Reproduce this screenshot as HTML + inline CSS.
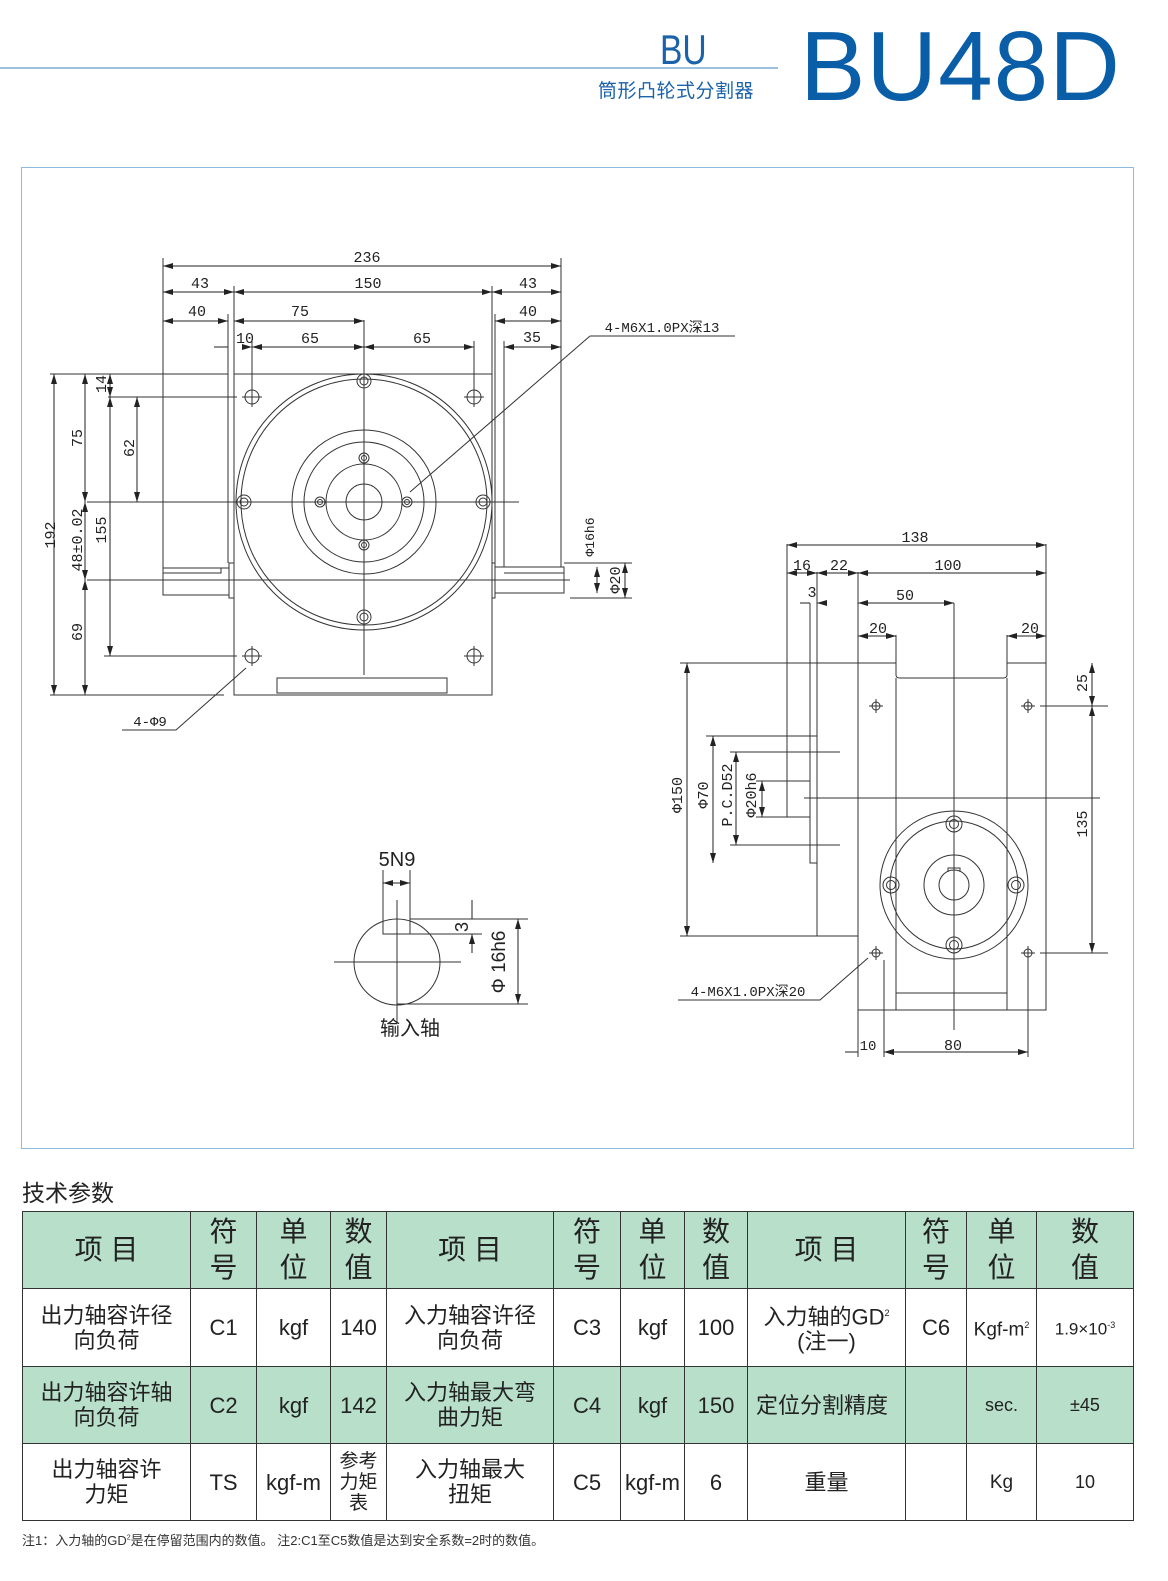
<!DOCTYPE html>
<html><head><meta charset="utf-8"><style>
body{margin:0;background:#fff;width:1168px;height:1581px;position:relative;overflow:hidden;font-family:"Liberation Sans","Noto Sans CJK SC",sans-serif}
.a{position:absolute}
table{position:absolute;left:22px;top:1211px;border-collapse:collapse;table-layout:fixed;width:1111px}
td{border:1.5px solid #333;text-align:center;vertical-align:middle;font-size:22px;line-height:25px;color:#222;padding:0}
tr.g td{background:#b7dfca}
tr.h td{font-size:28px;line-height:36px}
</style></head><body>
<div class="a" style="left:0;top:67px;width:778px;height:2px;background:#9cc0e0"></div>
<div class="a" style="left:660px;top:26px;font-size:42px;color:#1a62aa;font-family:'Liberation Sans',sans-serif;transform:scaleX(0.8);transform-origin:left">BU</div>
<div class="a" style="left:598px;top:76px;font-size:19px;color:#1a62aa;letter-spacing:0.5px">筒形凸轮式分割器</div>
<div class="a" style="left:800px;top:16px;font-size:98px;color:#0a5ea8;line-height:100px;letter-spacing:1px">BU48D</div>
<div class="a" style="left:21px;top:167px;width:1111px;height:980px;border:1.5px solid #8dbbe0"></div>

<svg class="a" style="left:0;top:0" width="1168" height="1160" viewBox="0 0 1168 1160">
<defs><marker id="m" viewBox="0 0 10 6" refX="10" refY="3" markerWidth="10" markerHeight="6" orient="auto-start-reverse"><path d="M0,0L10,3L0,6z" fill="#222"/></marker></defs>
<g stroke="#333" stroke-width="1" fill="none">
<rect x="234" y="374" width="258" height="321"/>
<rect x="277" y="678" width="170" height="15"/>
<circle cx="364" cy="502" r="128"/><circle cx="364" cy="502" r="123"/>
<circle cx="364" cy="502" r="72"/><circle cx="364" cy="502" r="60"/><circle cx="364" cy="502" r="38"/><circle cx="364" cy="502" r="18"/>
<g>
<circle cx="364" cy="381" r="7"/><circle cx="364" cy="381" r="4"/>
<circle cx="364" cy="617" r="7"/><circle cx="364" cy="617" r="4"/>
<circle cx="244" cy="502" r="7"/><circle cx="244" cy="502" r="4"/>
<circle cx="483" cy="502" r="7"/><circle cx="483" cy="502" r="4"/>
<circle cx="320" cy="502" r="5"/><circle cx="320" cy="502" r="2.5"/>
<circle cx="407" cy="502" r="5"/><circle cx="407" cy="502" r="2.5"/>
<circle cx="364" cy="458" r="5"/><circle cx="364" cy="458" r="2.5"/>
<circle cx="364" cy="545" r="5"/><circle cx="364" cy="545" r="2.5"/>
<circle cx="252" cy="397" r="7"/><path d="M242 397h20M252 387v20"/>
<circle cx="474" cy="397" r="7"/><path d="M464 397h20M474 387v20"/>
<circle cx="252" cy="656" r="7"/><path d="M242 656h20M252 646v20"/>
<circle cx="474" cy="656" r="7"/><path d="M464 656h20M474 646v20"/>
</g>
<rect x="163" y="568" width="66" height="27"/><path d="M163 573h58v-5"/><rect x="229" y="563" width="5" height="35"/>
<rect x="495" y="567" width="69" height="26"/><path d="M504 573h60"/><rect x="492" y="563" width="3" height="35"/>
<path d="M87 502H519M87 580H570M364 320V675"/>
<path d="M163 258V568M561 258V567M234 286V374M228 314V563M492 286V374M495 314V563M504 341V567M252 341V390M474 341V390"/>
<path d="M50 374H228M108 397H237M104 656H237M50 695H224M564 563H632M570 598H632"/>
</g>
<g stroke="#222" stroke-width="1" fill="none" marker-start="url(#m)" marker-end="url(#m)">
<path d="M163 266H561"/><path d="M163 292H234"/><path d="M234 292H492"/><path d="M492 292H561"/>
<path d="M163 321H228"/><path d="M234 321H364"/><path d="M495 321H561"/>
<path d="M252 347H364"/><path d="M364 347H474"/><path d="M504 347H561"/>
<path d="M54 374V695"/><path d="M85 374V502"/><path d="M110 374V397"/><path d="M137 397V502"/>
<path d="M85 502V580"/><path d="M110 397V656"/><path d="M85 580V695"/>
<path d="M597 567V593"/><path d="M625 563V598"/>
</g>
<path d="M214 347H228M252 347" stroke="#222" marker-end="url(#m)"/>
<g font-family="Liberation Mono,monospace" font-size="15" fill="#222" text-anchor="middle">
<text x="367" y="262">236</text><text x="200" y="288">43</text><text x="368" y="288">150</text><text x="528" y="288">43</text>
<text x="197" y="316">40</text><text x="300" y="316">75</text><text x="528" y="316">40</text>
<text x="245" y="343">10</text><text x="310" y="343">65</text><text x="422" y="343">65</text><text x="532" y="342">35</text>
<text transform="translate(55,535) rotate(-90)">192</text>
<text transform="translate(82,438) rotate(-90)">75</text>
<text transform="translate(106,384) rotate(-90)">14</text>
<text transform="translate(134,448) rotate(-90)">62</text>
<text transform="translate(82,540) rotate(-90)">48±0.02</text>
<text transform="translate(106,530) rotate(-90)">155</text>
<text transform="translate(82,632) rotate(-90)">69</text>
<text transform="translate(594,537) rotate(-90)" font-size="13">Φ16h6</text>
<text transform="translate(620,580) rotate(-90)">Φ20</text>
<text x="662" y="332" font-size="14">4-M6X1.0PX深13</text>
<text x="150" y="726" font-size="14">4-Φ9</text>
</g>
<path d="M590 336H735M590 336L410 492" stroke="#333" fill="none"/>
<path d="M122 730H176L246 668" stroke="#333" fill="none"/>

<g stroke="#333" fill="none">
<circle cx="397" cy="962" r="43"/>
<path d="M383 919V934H410V919M334 962H461M397 900V1022M383 870V919M410 870V919M410 919H528M410 934H482M397 1004H528"/>
</g>
<g stroke="#222" fill="none" marker-start="url(#m)" marker-end="url(#m)"><path d="M383 883H410"/><path d="M518 919V1004"/></g>
<path d="M472 900V919M472 953V934" stroke="#222" marker-end="url(#m)"/>
<text x="397" y="866" font-size="20" text-anchor="middle" fill="#222">5N9</text>
<text transform="translate(468,927) rotate(-90)" font-size="18" text-anchor="middle" fill="#222">3</text>
<text transform="translate(505,962) rotate(-90)" font-size="19" text-anchor="middle" fill="#222">Φ 16h6</text>
<text x="410" y="1035" font-size="20" text-anchor="middle" fill="#222">输入轴</text>

<g stroke="#333" fill="none">
<path d="M817 663H858V936H817z"/>
<path d="M858 663H896V675Q896 678 900 678H1003Q1007 678 1007 675V663H1046V1010H858z"/>
<path d="M896 678V1010M1007 678V1010M896 993H1007"/>
<path d="M810 736H817V863H810z"/>
<path d="M787 781H810V817H787z"/>
<circle cx="954" cy="885" r="74"/><circle cx="954" cy="885" r="64"/><circle cx="954" cy="885" r="30"/><circle cx="954" cy="885" r="15"/>
<path d="M948 872V868H960V872"/>
<circle cx="954" cy="824" r="8"/><circle cx="954" cy="824" r="4.5"/>
<circle cx="954" cy="945" r="8"/><circle cx="954" cy="945" r="4.5"/>
<circle cx="891" cy="885" r="8"/><circle cx="891" cy="885" r="4.5"/>
<circle cx="1016" cy="885" r="8"/><circle cx="1016" cy="885" r="4.5"/>
<circle cx="876" cy="706" r="4"/><path d="M869 706h14M876 699v14"/>
<circle cx="1028" cy="706" r="4"/><path d="M1021 706h14M1028 699v14"/>
<circle cx="876" cy="953" r="4"/><path d="M869 953h14M876 946v14"/>
<circle cx="1028" cy="953" r="4"/><path d="M1021 953h14M1028 946v14"/>
<path d="M804 798H1100M954 603V1030"/>
<path d="M787 544V781M817 572V736M810 603V736M858 572V663M896 635V663M1007 635V663M1046 544V663"/>
<path d="M680 663H817M680 936H858M706 736H817M730 752H840M730 845H840M756 781H787M756 817H787"/>
<path d="M1040 706H1108M1040 953H1108"/>
<path d="M858 1010V1057M884 960V1057M1028 960V1057"/>
</g>
<g stroke="#222" fill="none" marker-start="url(#m)" marker-end="url(#m)">
<path d="M787 545H1046"/><path d="M787 573H817"/><path d="M817 573H858"/><path d="M858 573H1046"/>
<path d="M858 603H954"/><path d="M858 636H896"/><path d="M1007 636H1046"/>
<path d="M687 663V936"/><path d="M713 736V863"/><path d="M736 752V845"/><path d="M762 781V817"/>
<path d="M1092 663V706"/><path d="M1092 706V953"/>
<path d="M884 1052H1028"/>
</g>
<path d="M800 603H810M827 603H817" stroke="#222" marker-end="url(#m)"/>
<path d="M845 1052H858M897 1052H884" stroke="#222" marker-end="url(#m)"/>
<g font-family="Liberation Mono,monospace" font-size="15" fill="#222" text-anchor="middle">
<text x="915" y="542">138</text><text x="802" y="570">16</text><text x="839" y="570">22</text><text x="948" y="570">100</text>
<text x="812" y="597">3</text><text x="905" y="600">50</text><text x="878" y="633">20</text><text x="1030" y="633">20</text>
<text transform="translate(682,795) rotate(-90)">Φ150</text>
<text transform="translate(708,795) rotate(-90)">Φ70</text>
<text transform="translate(732,795) rotate(-90)">P.C.D52</text>
<text transform="translate(756,795) rotate(-90)">Φ20h6</text>
<text transform="translate(1087,683) rotate(-90)">25</text>
<text transform="translate(1087,824) rotate(-90)">135</text>
<text x="868" y="1050" font-size="14">10</text><text x="953" y="1050">80</text>
<text x="748" y="996" font-size="14">4-M6X1.0PX深20</text>
</g>
<path d="M678 1000H820L868 958" stroke="#333" fill="none"/>
</svg>

<div class="a" style="left:22px;top:1174px;font-size:23px;color:#222">技术参数</div>
<table>
<colgroup><col style="width:168px"><col style="width:66px"><col style="width:74px"><col style="width:56px"><col style="width:167px"><col style="width:67px"><col style="width:64px"><col style="width:63px"><col style="width:158px"><col style="width:61px"><col style="width:70px"><col style="width:97px"></colgroup>
<tr class="g h" style="height:77px"><td>项 目</td><td>符<br>号</td><td>单<br>位</td><td>数<br>值</td><td>项 目</td><td>符<br>号</td><td>单<br>位</td><td>数<br>值</td><td>项 目</td><td>符<br>号</td><td>单<br>位</td><td>数<br>值</td></tr>
<tr style="height:78px"><td>出力轴容许径<br>向负荷</td><td>C1</td><td>kgf</td><td>140</td><td>入力轴容许径<br>向负荷</td><td>C3</td><td>kgf</td><td>100</td><td>入力轴的GD<sup style="font-size:9px">2</sup><br>(注一)</td><td>C6</td><td style="font-size:19px">Kgf-m<sup style="font-size:9px">2</sup></td><td style="font-size:17px">1.9×10<sup style="font-size:9px">-3</sup></td></tr>
<tr class="g" style="height:77px"><td>出力轴容许轴<br>向负荷</td><td>C2</td><td>kgf</td><td>142</td><td>入力轴最大弯<br>曲力矩</td><td>C4</td><td>kgf</td><td>150</td><td style="text-align:left;padding-left:8px">定位分割精度</td><td></td><td style="font-size:18px">sec.</td><td style="font-size:18px">±45</td></tr>
<tr style="height:77px"><td>出力轴容许<br>力矩</td><td>TS</td><td>kgf-m</td><td style="font-size:19px;line-height:21px">参考<br>力矩<br>表</td><td>入力轴最大<br>扭矩</td><td>C5</td><td>kgf-m</td><td>6</td><td>重量</td><td></td><td style="font-size:19px">Kg</td><td style="font-size:18px">10</td></tr>
</table>
<div class="a" style="left:22px;top:1530px;font-size:13px;color:#333">注1：入力轴的GD<sup style="font-size:7px">2</sup>是在停留范围内的数值。 注2:C1至C5数值是达到安全系数=2时的数值。</div>
</body></html>
